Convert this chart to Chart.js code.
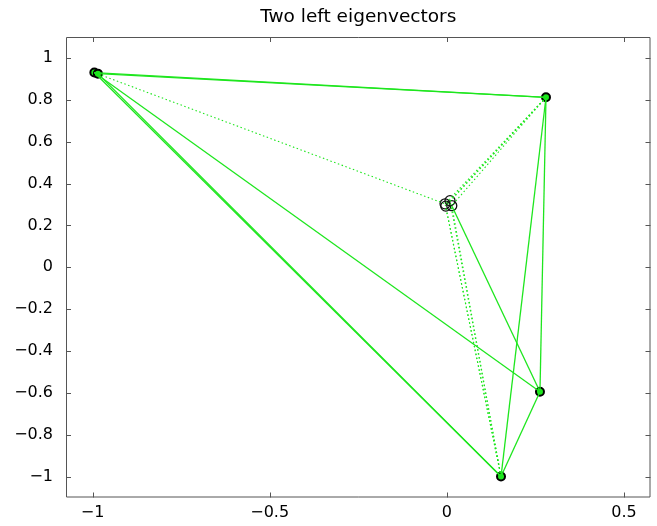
<!DOCTYPE html>
<html>
<head>
<meta charset="utf-8">
<script src="https://cdn.jsdelivr.net/npm/chart.js@4"></script>
<style>
    body { margin: 0; background: #fff; }
    canvas { display: block; }
</style>
</head>
<body>
<canvas id="eigChart" width="657" height="526"></canvas>
<script>
// Node coordinates (two left eigenvectors)
// 0,1 = top-left pair, 2 = top-right, 3 = lower-right, 4 = bottom, 5-8 = centre cluster
const nodeX = [-0.995, -0.985, 0.280, 0.263, 0.153, -0.005, 0.009, 0.014, -0.003];
const nodeY = [0.930, 0.925, 0.812, -0.595, -1.000, 0.303, 0.318, 0.294, 0.292];
const outerNodes = [0, 1, 2, 3, 4];
const clusterNodes = [5, 6, 7, 8];

// Edges between nodes
const solidEdges = [[0, 2], [1, 2], [0, 3], [0, 4], [1, 4], [2, 3], [2, 4], [3, 4], [7, 3]];
const dottedEdges = [[0, 5], [2, 5], [2, 6], [2, 7], [2, 8], [4, 5], [4, 6], [4, 7], [4, 8]];

// Axis ticks
const xTicks = [-1, -0.5, 0, 0.5];
const yTicks = [-1, -0.8, -0.6, -0.4, -0.2, 0, 0.2, 0.4, 0.6, 0.8, 1];

const green = '#1ee61e';
const fontFamily = 'DejaVu Sans';

function point(i) {
    return { x: nodeX[i], y: nodeY[i] };
}

function edgeDataset(edge, dotted) {
    return {
        data: [point(edge[0]), point(edge[1])],
        showLine: true,
        borderColor: green,
        borderWidth: dotted ? 1.1 : 1.3,
        borderDash: dotted ? [1.5, 2.5] : [],
        pointRadius: 0,
        fill: false
    };
}

// Box with inward tick marks on all four sides
const boxPlugin = {
    id: 'box',
    afterDraw(chart) {
        const { ctx, chartArea: a, scales: { x, y } } = chart;
        const len = 5;
        ctx.save();
        ctx.strokeStyle = '#555';
        ctx.lineWidth = 1;
        ctx.beginPath();
        ctx.rect(a.left + 0.5, a.top + 0.5, a.right - a.left - 1, a.bottom - a.top - 1);
        xTicks.forEach(v => {
            const px = Math.round(x.getPixelForValue(v)) + 0.5;
            ctx.moveTo(px, a.bottom);
            ctx.lineTo(px, a.bottom - len);
            ctx.moveTo(px, a.top);
            ctx.lineTo(px, a.top + len);
        });
        yTicks.forEach(v => {
            const py = Math.round(y.getPixelForValue(v)) + 0.5;
            ctx.moveTo(a.left, py);
            ctx.lineTo(a.left + len, py);
            ctx.moveTo(a.right, py);
            ctx.lineTo(a.right - len, py);
        });
        ctx.stroke();
        ctx.restore();
    }
};

const fmt = v => String(Math.round(v * 10) / 10).replace('-', '\u2212');

const datasets = [];
dottedEdges.forEach(e => datasets.push(edgeDataset(e, true)));
solidEdges.forEach(e => datasets.push(edgeDataset(e, false)));
datasets.push({
    data: clusterNodes.map(point),
    pointRadius: 5,
    pointBorderWidth: 1.3,
    pointBorderColor: '#111',
    pointBackgroundColor: 'rgba(0,0,0,0)',
    showLine: false
});
datasets.push({
    data: outerNodes.map(point),
    pointRadius: 4,
    pointBorderWidth: 2,
    pointBorderColor: '#000',
    pointBackgroundColor: green,
    showLine: false
});

new Chart(document.getElementById('eigChart'), {
    type: 'scatter',
    data: { datasets },
    options: {
        responsive: false,
        animation: false,
        layout: { padding: { left: 0, right: 6.5, top: 0, bottom: 0 } },
        plugins: {
            legend: { display: false },
            tooltip: { enabled: false },
            title: {
                display: true,
                text: 'Two left eigenvectors',
                fullSize: false,
                color: '#000',
                font: { family: fontFamily, size: 18.5, weight: 'normal' },
                padding: { top: 6.4, bottom: 8.4 }
            }
        },
        scales: {
            x: {
                type: 'linear',
                min: -1.075,
                max: 0.575,
                grid: { display: false, drawTicks: false },
                border: { display: false },
                afterBuildTicks: s => { s.ticks = xTicks.map(v => ({ value: v })); },
                afterFit: s => { s.height = 28.5; },
                ticks: {
                    color: '#000',
                    padding: 6,
                    maxRotation: 0,
                    font: { family: fontFamily, size: 16 },
                    callback: v => fmt(v)
                }
            },
            y: {
                type: 'linear',
                min: -1.1,
                max: 1.1,
                grid: { display: false, drawTicks: false },
                border: { display: false },
                afterBuildTicks: s => { s.ticks = yTicks.map(v => ({ value: v })); },
                afterFit: s => { s.width = 66; },
                ticks: {
                    color: '#000',
                    padding: 13,
                    font: { family: fontFamily, size: 16 },
                    callback: v => fmt(v)
                }
            }
        }
    },
    plugins: [boxPlugin]
});
</script>
</body>
</html>
